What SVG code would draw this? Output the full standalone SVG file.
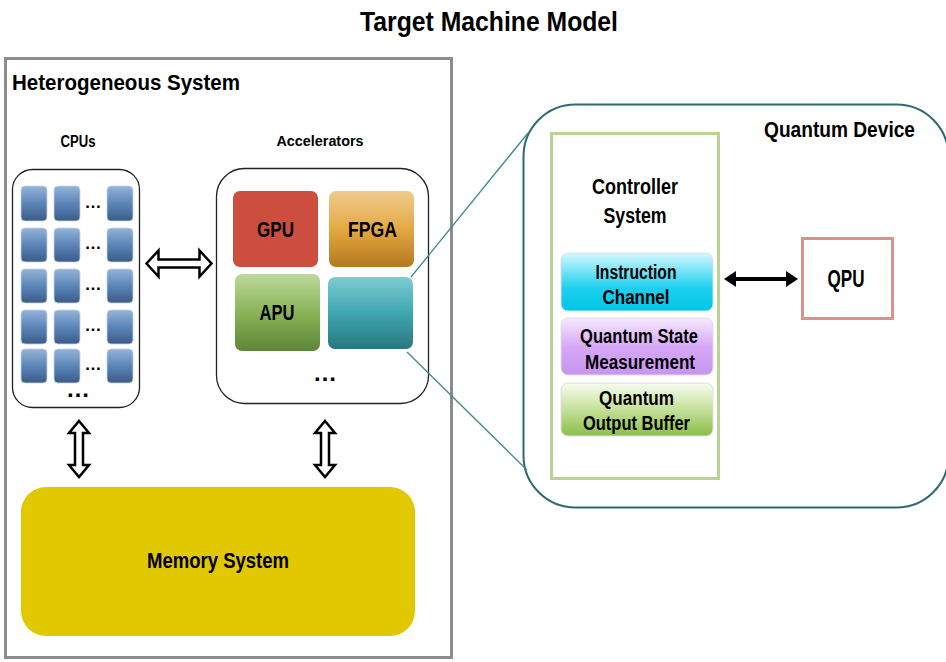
<svg xmlns="http://www.w3.org/2000/svg" width="946" height="662" viewBox="0 0 946 662">
<defs>
<linearGradient id="gCpu" x1="0" y1="0" x2="0" y2="1"><stop offset="0" stop-color="#95b3d9"/><stop offset="0.5" stop-color="#5b85b8"/><stop offset="1" stop-color="#3a5c88"/></linearGradient>
<linearGradient id="gFpga" x1="0" y1="0" x2="0" y2="1"><stop offset="0" stop-color="#f0cb8e"/><stop offset="0.5" stop-color="#e4a943"/><stop offset="1" stop-color="#b3791f"/></linearGradient>
<linearGradient id="gApu" x1="0" y1="0" x2="0" y2="1"><stop offset="0" stop-color="#bcd99a"/><stop offset="0.5" stop-color="#8ab35a"/><stop offset="1" stop-color="#5d8637"/></linearGradient>
<linearGradient id="gTeal" x1="0" y1="0" x2="0" y2="1"><stop offset="0" stop-color="#80ccd2"/><stop offset="0.5" stop-color="#3ea6b0"/><stop offset="1" stop-color="#2b7780"/></linearGradient>
<linearGradient id="gInst" x1="0" y1="0" x2="0" y2="1"><stop offset="0" stop-color="#d4f8ff"/><stop offset="0.6" stop-color="#1fd0ee"/><stop offset="1" stop-color="#00c5e6"/></linearGradient>
<linearGradient id="gMeas" x1="0" y1="0" x2="0" y2="1"><stop offset="0" stop-color="#f6eaff"/><stop offset="0.5" stop-color="#d6a8f6"/><stop offset="1" stop-color="#c695f0"/></linearGradient>
<linearGradient id="gBuf" x1="0" y1="0" x2="0" y2="1"><stop offset="0" stop-color="#f8fcf0"/><stop offset="0.5" stop-color="#c4e09a"/><stop offset="1" stop-color="#8bbf47"/></linearGradient>
</defs>
<style>
text{font-family:"Liberation Sans",Arial,sans-serif;font-weight:bold;fill:#000}
.cpu{fill:url(#gCpu);stroke:#c8d4e4;stroke-width:0.8}
.dots{font-size:17px;text-anchor:middle}
.bigdots{font-size:24px;text-anchor:middle}
.hollow{fill:#fff;stroke:#000;stroke-width:2.5;stroke-linejoin:miter}
.teal{stroke:#3d8a8f;stroke-width:1.3;fill:none}
.sub{stroke:#e0e0e0;stroke-width:1}
</style>

<text x="489" y="31" font-size="28" text-anchor="middle" textLength="258" lengthAdjust="spacingAndGlyphs">Target Machine Model</text>

<g id="heterogeneous-system">
<rect x="5.5" y="58.5" width="446" height="599" fill="#fff" stroke="#8c8c8c" stroke-width="3"/>
<text x="12" y="90" font-size="22" textLength="228" lengthAdjust="spacingAndGlyphs">Heterogeneous System</text>
</g>

<g id="cpus">
<text x="78" y="147" font-size="16" text-anchor="middle" textLength="35" lengthAdjust="spacingAndGlyphs">CPUs</text>
<rect x="12.5" y="169.5" width="127" height="238" rx="20" fill="#fff" stroke="#222" stroke-width="1.3"/>
<g>
<rect class="cpu" x="21" y="186" width="26" height="35" rx="4"/><rect class="cpu" x="54" y="186" width="26" height="35" rx="4"/><rect class="cpu" x="107" y="186" width="26" height="35" rx="4"/>
<rect class="cpu" x="21" y="228" width="26" height="34" rx="4"/><rect class="cpu" x="54" y="228" width="26" height="34" rx="4"/><rect class="cpu" x="107" y="228" width="26" height="34" rx="4"/>
<rect class="cpu" x="21" y="269" width="26" height="34" rx="4"/><rect class="cpu" x="54" y="269" width="26" height="34" rx="4"/><rect class="cpu" x="107" y="269" width="26" height="34" rx="4"/>
<rect class="cpu" x="21" y="310" width="26" height="34" rx="4"/><rect class="cpu" x="54" y="310" width="26" height="34" rx="4"/><rect class="cpu" x="107" y="310" width="26" height="34" rx="4"/>
<rect class="cpu" x="21" y="349" width="26" height="34" rx="4"/><rect class="cpu" x="54" y="349" width="26" height="34" rx="4"/><rect class="cpu" x="107" y="349" width="26" height="34" rx="4"/>
</g>
<text class="dots" x="93" y="208">…</text>
<text class="dots" x="93" y="249">…</text>
<text class="dots" x="93" y="290">…</text>
<text class="dots" x="93" y="331">…</text>
<text class="dots" x="93" y="370">…</text>
<text class="bigdots" x="78" y="397">…</text>
</g>

<g id="accelerators">
<text x="320" y="146" font-size="15" text-anchor="middle" textLength="87" lengthAdjust="spacingAndGlyphs">Accelerators</text>
<rect x="216.5" y="168.5" width="212" height="235" rx="28" fill="#fff" stroke="#222" stroke-width="1.3"/>
<g id="gpu"><rect x="233" y="191" width="85" height="76" rx="7" fill="#cc4e3e"/><text x="275.5" y="237" font-size="22" text-anchor="middle" textLength="37" lengthAdjust="spacingAndGlyphs">GPU</text></g>
<g id="fpga"><rect x="329" y="191" width="85" height="76" rx="7" fill="url(#gFpga)"/><text x="372.5" y="237" font-size="22" text-anchor="middle" textLength="49" lengthAdjust="spacingAndGlyphs">FPGA</text></g>
<g id="apu"><rect x="235" y="274" width="85" height="77" rx="7" fill="url(#gApu)"/><text x="277" y="320" font-size="22" text-anchor="middle" textLength="35" lengthAdjust="spacingAndGlyphs">APU</text></g>
<g id="qpu-slot"><rect x="328" y="277" width="85" height="72" rx="7" fill="url(#gTeal)"/></g>
<text class="bigdots" x="325" y="381">…</text>
</g>

<g id="memory-system">
<rect x="21" y="487" width="394" height="149" rx="25" fill="#e1c800"/>
<text x="218" y="568" font-size="22" text-anchor="middle" textLength="142" lengthAdjust="spacingAndGlyphs">Memory System</text>
</g>

<g id="quantum-device">
<rect x="523.5" y="104.5" width="425" height="403" rx="52" fill="#fff" stroke="#2f6a72" stroke-width="2"/>
<text x="764" y="137" font-size="22" textLength="151" lengthAdjust="spacingAndGlyphs">Quantum Device</text>
</g>

<g id="controller-system">
<rect x="551.5" y="133.5" width="167" height="345" fill="#fff" stroke="#b9d394" stroke-width="3"/>
<text x="635" y="194" font-size="22" text-anchor="middle" textLength="86" lengthAdjust="spacingAndGlyphs">Controller</text>
<text x="635" y="223" font-size="22" text-anchor="middle" textLength="63" lengthAdjust="spacingAndGlyphs">System</text>
</g>

<g id="instruction-channel">
<rect class="sub" x="561" y="253" width="152" height="58" rx="7" fill="url(#gInst)"/>
<text x="636" y="279" font-size="20" text-anchor="middle" textLength="81" lengthAdjust="spacingAndGlyphs">Instruction</text>
<text x="636" y="304" font-size="20" text-anchor="middle" textLength="67" lengthAdjust="spacingAndGlyphs">Channel</text>
</g>

<g id="quantum-state-measurement">
<rect class="sub" x="561" y="318" width="152" height="57" rx="7" fill="url(#gMeas)"/>
<text x="639" y="343" font-size="20" text-anchor="middle" textLength="118" lengthAdjust="spacingAndGlyphs">Quantum State</text>
<text x="640" y="369" font-size="20" text-anchor="middle" textLength="110" lengthAdjust="spacingAndGlyphs">Measurement</text>
</g>

<g id="quantum-output-buffer">
<rect class="sub" x="561" y="383" width="152" height="53" rx="7" fill="url(#gBuf)"/>
<text x="636.5" y="405" font-size="20" text-anchor="middle" textLength="75" lengthAdjust="spacingAndGlyphs">Quantum</text>
<text x="636.5" y="430" font-size="20" text-anchor="middle" textLength="107" lengthAdjust="spacingAndGlyphs">Output Buffer</text>
</g>

<g id="qpu">
<rect x="802.5" y="238.5" width="90" height="80" fill="#fff" stroke="#d8948c" stroke-width="3"/>
<text x="846" y="287" font-size="23" text-anchor="middle" textLength="37" lengthAdjust="spacingAndGlyphs">QPU</text>
</g>

<g id="connectors">
<path class="hollow" d="M146.5,263.5 L158.5,250.5 L158.5,259.5 L199.5,259.5 L199.5,250.5 L211.5,263.5 L199.5,276.5 L199.5,267.5 L158.5,267.5 L158.5,276.5 Z"/>
<path class="hollow" d="M79,421 L89,433 L83,433 L83,465 L89,465 L79,477 L69,465 L75,465 L75,433 L69,433 Z"/>
<path class="hollow" d="M325,421 L335,433 L329,433 L329,465 L335,465 L325,477 L315,465 L321,465 L321,433 L315,433 Z"/>
<path d="M724,279 L736,271 L736,277 L786,277 L786,271 L798,279 L786,287 L786,281 L736,281 L736,287 Z" fill="#000"/>
<line class="teal" x1="411" y1="277" x2="528" y2="133"/>
<line class="teal" x1="407" y1="352" x2="527" y2="470"/>
</g>
</svg>
